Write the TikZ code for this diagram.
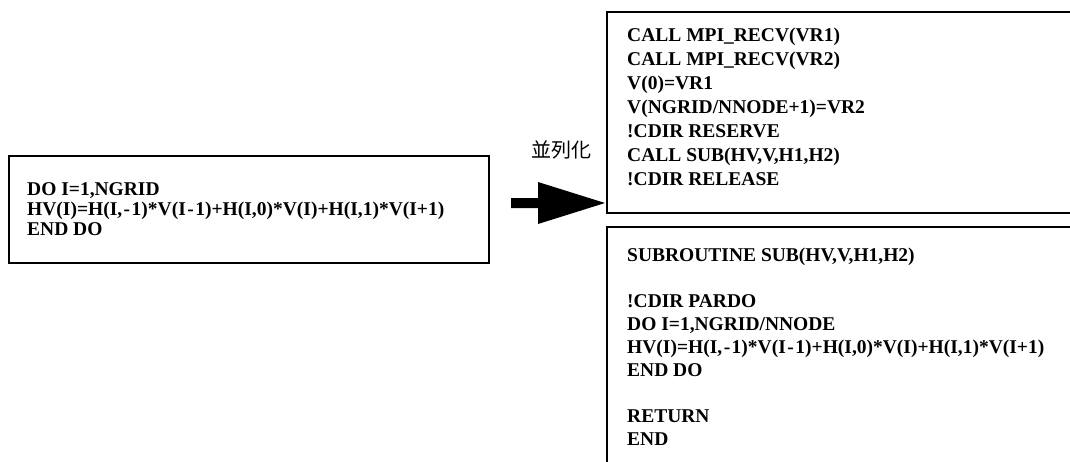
\documentclass[tikz,border=0pt]{standalone}
\usepackage{fontspec}
\setmainfont{Liberation Serif}
\newfontfamily\cjkfont{Noto Sans CJK JP}
% spaced hyphen used inside the index expressions
\newcommand{\idxminus}{\kern1.5pt-\kern1.5pt}
\tikzset{
  codebox/.style={draw=black, line width=2pt, anchor=north west, inner sep=0pt},
  code/.style={anchor=north west, inner sep=0pt, align=left,
    font=\fontsize{19.5}{#1}\selectfont\bfseries},
  caption/.style={inner sep=0pt, font=\cjkfont\fontsize{20}{24}\selectfont},
}
\begin{document}
\begin{tikzpicture}[x=1pt,y=-1pt]
\useasboundingbox (0,0) rectangle (1070,461);
\clip (0,0) rectangle (1070,461);

% serial loop
\node[codebox, minimum width=480pt, minimum height=107pt] (serial) at (8,155) {};
\node[code=20pt] (serialcode) at (27,181) {\strut DO I=1,NGRID\\
HV(I)=H(I,\idxminus1)*V(I\idxminus1)+H(I,0)*V(I)+H(I,1)*V(I+1)\\
END DO};

% main program after parallelisation
\node[codebox, minimum width=480pt, minimum height=201pt] (top) at (606,11) {};
\node[code=24pt] (topcode) at (627,24.7) {\strut CALL MPI\_RECV(VR1)\\
CALL MPI\_RECV(VR2)\\
V(0)=VR1\\
V(NGRID/NNODE+1)=VR2\\
!CDIR RESERVE\\
CALL SUB(HV,V,H1,H2)\\
!CDIR RELEASE};

% subroutine
\node[codebox, minimum width=480pt, minimum height=260pt] (sub) at (606,226) {};
\node[code=23pt] (subcode) at (627,245.4) {\strut SUBROUTINE SUB(HV,V,H1,H2)\\[23pt]
!CDIR PARDO\\
DO I=1,NGRID/NNODE\\
HV(I)=H(I,\idxminus1)*V(I\idxminus1)+H(I,0)*V(I)+H(I,1)*V(I+1)\\
END DO\\[23pt]
RETURN\\
END};

% transformation arrow and its label
\node[caption] (lbl) at (561,150) {並列化};
\coordinate (a0) at (511,203);
\coordinate (a1) at ([xshift=-1pt]top.west |- a0);
\fill[black] (a0) ++(0,-5) -- ++(27,0) -- ++(0,-16) -- (a1)
  -- ++(-67,21) -- ++(0,-16) -- ++(-27,0) -- cycle;
\end{tikzpicture}
\end{document}
